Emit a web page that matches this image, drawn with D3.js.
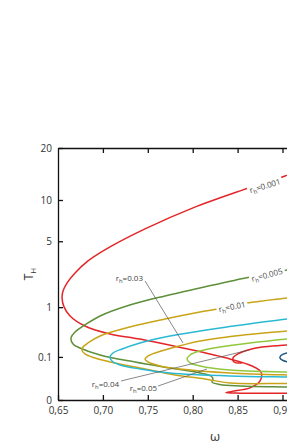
<!DOCTYPE html>
<html>
<head>
<meta charset="utf-8">
<script src="https://cdn.jsdelivr.net/npm/d3@7"></script>
<style>
body { margin: 0; background: #fff; }
svg { display: block; font-family: "Open Sans", sans-serif; }
</style>
</head>
<body>
<div id="chart"></div>
<script>
// tick values
var xTicks = [0.65, 0.70, 0.75, 0.80, 0.85, 0.90, 0.95, 1.00];
var yTicks = [0, 0.1, 1, 5, 10, 20];

// curves, [omega, T_H]
var rh001 = [[0.9195,15.22],[0.9028,14.06],[0.856,11.59],[0.8003,8.86],[0.7469,6.26],[0.7079,4.48],
  [0.6834,3.36],[0.669,2.56],[0.66,2.0],[0.6556,1.62],[0.6545,1.33],[0.6567,1.01],[0.6634,0.742],[0.68,0.507],
  [0.7079,0.36],[0.7413,0.284],[0.789,0.176],[0.8415,0.0862],[0.866,0.0492],[0.876,0.0275],
  [0.875,0.0086],[0.8638,0.0022],[0.8438,0.0008],[0.837,0.0005],[0.8527,0.0004],[0.905,0.0004],[0.9418,0.0004]];
var rh005 = [[0.9418,3.29],[0.905,2.75],[0.8638,2.33],[0.8081,1.758],[0.7692,1.41],[0.73,1.073],
  [0.6968,0.742],[0.68,0.528],[0.669,0.393],[0.6645,0.298],[0.6667,0.22],[0.6745,0.176],[0.6968,0.114],
  [0.7357,0.0687],[0.7747,0.041],[0.8081,0.0246],[0.8204,0.0173],[0.8226,0.0116],[0.8215,0.0073],
  [0.83,0.00466],[0.8527,0.00343],[0.905,0.00275],[0.9418,0.0024]];
var rh01 = [[0.9418,1.49],[0.905,1.33],[0.8605,1.14],[0.827,0.943],[0.8081,0.853],[0.7692,0.665],
  [0.73,0.487],[0.6968,0.328],[0.6834,0.232],[0.6778,0.186],[0.6767,0.156],[0.68,0.122],[0.6912,0.0927],
  [0.7135,0.0634],[0.7469,0.0373],[0.7803,0.0196],[0.8137,0.0116],[0.8415,0.0061],[0.905,0.0056],[0.9418,0.0051]];
var rhCyan = [[0.9418,0.742],[0.905,0.665],[0.8382,0.487],[0.8081,0.411],[0.7747,0.328],[0.7413,0.232],
  [0.7213,0.166],[0.7112,0.13],[0.7079,0.0995],[0.7101,0.0742],[0.719,0.0537],[0.7413,0.0373],
  [0.7747,0.0246],[0.8415,0.0173],[0.905,0.0152],[0.9418,0.0143]];
var rhGold2 = [[0.9418,0.467],[0.905,0.411],[0.8382,0.313],[0.8081,0.257],[0.7725,0.166],[0.758,0.13],
  [0.7502,0.1066],[0.7469,0.0862],[0.7502,0.0687],[0.7636,0.0492],[0.7859,0.0373],[0.8415,0.0246],
  [0.905,0.0196],[0.9418,0.0184]];
var rhLime = [[0.9418,0.328],[0.905,0.284],[0.8638,0.232],[0.8304,0.186],[0.8081,0.147],[0.797,0.114],
  [0.7937,0.0862],[0.797,0.0634],[0.8081,0.0492],[0.8415,0.0338],[0.905,0.0275],[0.9418,0.026]];
var rhRed2 = [[0.9418,0.244],[0.905,0.208],[0.8772,0.186],[0.8616,0.156],[0.8504,0.122],[0.8449,0.0927],
  [0.846,0.0687],[0.8549,0.0634]];
var rhNavy = [[0.9418,0.156],[0.905,0.13],[0.8983,0.11],[0.8972,0.0927],[0.9006,0.0771],[0.9195,0.0584],[0.9418,0.0537]];

var series = [
  {data: rh001, color: "#e42527"},
  {data: rh005, color: "#5e8f3b"},
  {data: rh01, color: "#c9a418"},
  {data: rhCyan, color: "#2ab9d3"},
  {data: rhGold2, color: "#c9a418"},
  {data: rhLime, color: "#92c83e"},
  {data: rhRed2, color: "#e42527"},
  {data: rhNavy, color: "#1f5a85"}
];

// labels sitting on the curves: [omega, T, text, angle]
var inlineLabels = [[0.8805, 12.26, "0.001", -17], [0.8827, 2.44, "0.005", -15], [0.8438, 1.01, "0.01", -11]];
// pointer labels: text, start [omega,T], end [omega,T]
var pointerText = ["0.03", "0.04", "0.05"];
var pointerStart = [[0.7469, 2.11], [0.7202, 0.0086], [0.7614, 0.0034]];
var pointerEnd = [[0.7892, 0.232], [0.8627, 0.156], [0.8159, 0.0373]];

var W = 287, H = 448;
var mLeft = 58, mTop = 148, mRight = 372.3, mBottom = 400;

var svg = d3.select("#chart").append("svg")
    .attr("width", W)
    .attr("height", H);

var x = d3.scaleLinear().domain([0.65, 1.0]).range([mLeft, mRight]);
var y = d3.scalePow().exponent(1/3).domain([0, 20]).range([mBottom, mTop]);

svg.append("clipPath").attr("id", "clip")
  .append("rect").attr("x", mLeft).attr("y", mTop).attr("width", mRight - mLeft).attr("height", mBottom - mTop);

var line = d3.line()
    .x(function(d){ return x(d[0]); })
    .y(function(d){ return y(d[1]); })
    .curve(d3.curveCatmullRom.alpha(0.5));

var plot = svg.append("g").attr("clip-path", "url(#clip)");

plot.selectAll("path.curve")
    .data(series)
    .enter()
    .append("path")
    .attr("class", "curve")
    .attr("d", function(d){ return line(d.data); })
    .attr("fill", "none")
    .attr("stroke", function(d){ return d.color; })
    .attr("stroke-width", 1.5);

// pointer lines
plot.selectAll("line.ptr")
    .data(pointerText)
    .enter()
    .append("line")
    .attr("class", "ptr")
    .attr("x1", function(d, i){ return x(pointerStart[i][0]); })
    .attr("y1", function(d, i){ return y(pointerStart[i][1]); })
    .attr("x2", function(d, i){ return x(pointerEnd[i][0]); })
    .attr("y2", function(d, i){ return y(pointerEnd[i][1]); })
    .attr("stroke", "#555")
    .attr("stroke-width", 0.7);

function rhText(sel, val) {
  sel.append("tspan").text("r");
  sel.append("tspan").attr("font-size", 6).attr("dy", 2).text("h");
  sel.append("tspan").attr("dy", -2).text("=" + val);
}

// inline labels with white box behind, so the curve is broken
inlineLabels.forEach(function(l){
  var g = svg.append("g")
      .attr("transform", "translate(" + x(l[0]) + "," + y(l[1]) + ") rotate(" + l[3] + ")");
  var t = g.append("text")
      .attr("text-anchor", "middle")
      .attr("dy", "0.35em")
      .attr("font-size", 8)
      .attr("fill", "#444");
  rhText(t, l[2]);
  var bb = t.node().getBBox();
  g.insert("rect", "text")
      .attr("x", bb.x - 2).attr("y", bb.y)
      .attr("width", bb.width + 4).attr("height", bb.height)
      .attr("fill", "#fff");
});

// pointer label texts
var pdx = [-2, -2, -1];
var pdy = [0, 6, 5];
pointerText.forEach(function(v, i){
  var t = svg.append("text")
      .attr("x", x(pointerStart[i][0]) + pdx[i])
      .attr("y", y(pointerStart[i][1]) + pdy[i])
      .attr("text-anchor", "end")
      .attr("font-size", 8)
      .attr("fill", "#444");
  rhText(t, v);
});

// axes
var fmtX = function(d){ return d3.format(".2f")(d).replace(".", ","); };

svg.append("g")
    .attr("transform", "translate(0," + mBottom + ")")
    .call(d3.axisBottom(x).tickValues(xTicks).tickSizeInner(-5).tickSizeOuter(0).tickPadding(7).tickFormat(fmtX));

svg.append("g")
    .attr("transform", "translate(0," + mTop + ")")
    .call(d3.axisTop(x).tickValues(xTicks.slice(1, -1)).tickSizeInner(-5).tickSizeOuter(0).tickFormat(""));

svg.append("g")
    .attr("transform", "translate(" + mLeft + ",0)")
    .call(d3.axisLeft(y).tickValues(yTicks).tickSizeInner(-5).tickSizeOuter(0).tickPadding(6)
      .tickFormat(function(d){ return d; }));

svg.append("g")
    .attr("transform", "translate(" + mRight + ",0)")
    .call(d3.axisRight(y).tickValues(yTicks).tickSizeInner(-5).tickSizeOuter(0).tickFormat(""));

svg.selectAll(".domain").attr("stroke", "#111").attr("stroke-width", 1.3);
svg.selectAll(".tick line").attr("stroke", "#111").attr("stroke-width", 1.3);
svg.selectAll(".tick text").attr("font-size", 10).attr("fill", "#333").attr("font-family", "'Open Sans', sans-serif");

// axis titles
svg.append("text")
    .attr("x", (mLeft + mRight) / 2)
    .attr("y", 441)
    .attr("text-anchor", "middle")
    .attr("font-size", 13)
    .attr("fill", "#333")
    .text("ω");

var yt = svg.append("text")
    .attr("transform", "translate(33,274) rotate(-90)")
    .attr("text-anchor", "middle")
    .attr("font-size", 12)
    .attr("fill", "#333");
yt.append("tspan").text("T");
yt.append("tspan").attr("font-size", 8).attr("dy", 3).text("H");
</script>
</body>
</html>
